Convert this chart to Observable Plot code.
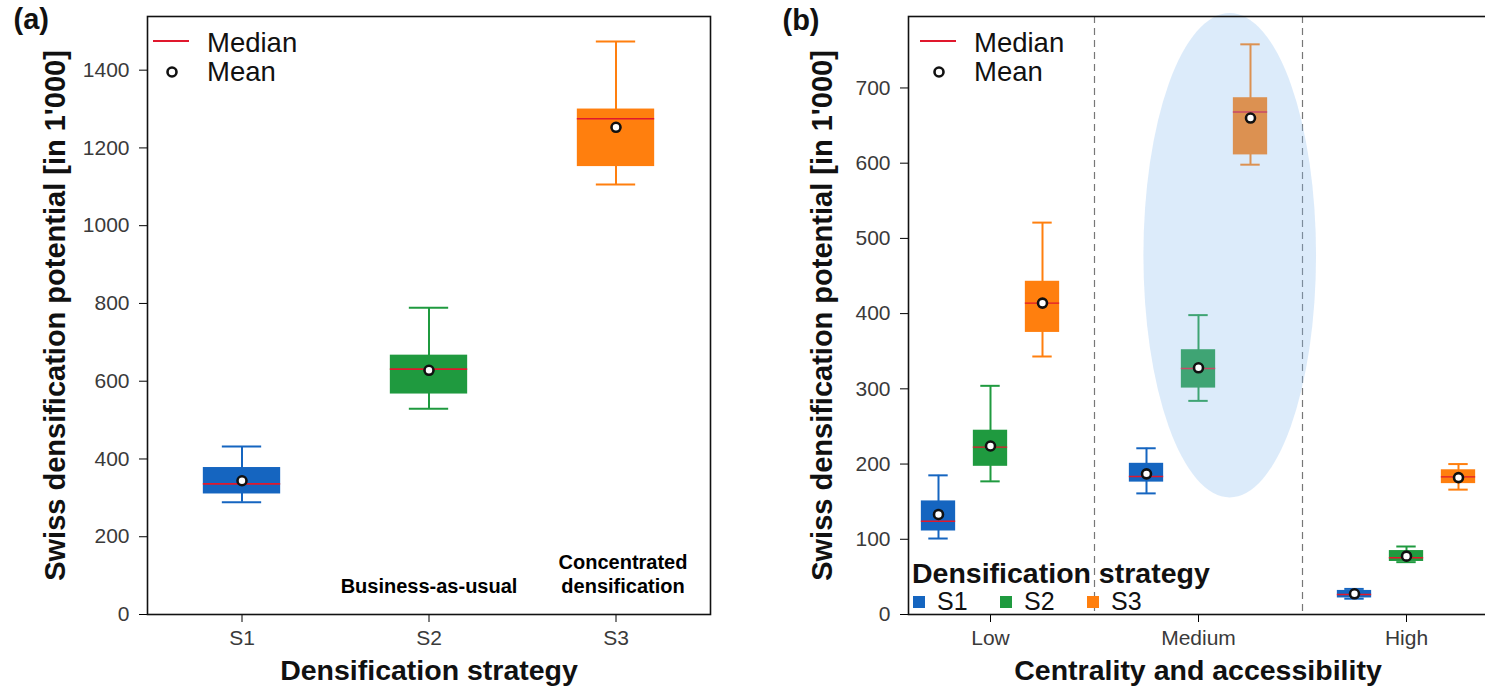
<!DOCTYPE html>
<html><head><meta charset="utf-8">
<script src="https://cdn.jsdelivr.net/npm/d3@7"></script>
<script src="https://cdn.jsdelivr.net/npm/@observablehq/plot@0.6"></script>
<style>
html,body{margin:0;padding:0;background:#fff;overflow:hidden;}
#wrap{position:relative;width:1485px;height:695px;overflow:hidden;}
#row{display:flex;width:1500px;}
#overlay{position:absolute;left:0;top:0;pointer-events:none;}
</style></head><body>
<div id="wrap"><div id="row"></div><svg id="overlay" width="1485" height="695"></svg></div>
<script>
const FONT = '"Liberation Sans", Arial, Helvetica, sans-serif';

// ---------- shared ----------
const strategies = ["S1", "S2", "S3"];
const strategyColors = ["#1565c0", "#1f9a3f", "#ff7f0e"];
const medianColor = "#e0182d";

// ---------- panel (a): totals per strategy ----------
const aWhiskerLow  = [289, 529, 1106];
const aQ1          = [310, 567, 1152];
const aMedian      = [336, 631, 1275];
const aQ3          = [378, 667, 1300];
const aWhiskerHigh = [432, 789, 1474];
const aMean        = [344, 628, 1253];
const aTicks = [0, 200, 400, 600, 800, 1000, 1200, 1400];
const aAnnotStrategies = ["S2", "S3"];
const aAnnotLabels = ["Business-as-usual", "Concentrated\ndensification"];

// ---------- panel (b): by centrality, order Low S1,S2,S3, Medium S1.., High S1.. ----------
const categories = ["Low", "Medium", "High"];
const bWhiskerLow  = [101, 177, 343,   161, 284, 598,   21, 69.6, 166];
const bQ1          = [111, 197, 375,   176, 301, 611,   22, 70.5, 174];
const bMedian      = [124, 222.5, 414, 183.5, 327, 668, 26.6, 75.4, 183];
const bQ3          = [151, 245, 443,   201, 352, 687,   32, 85, 192.4];
const bWhiskerHigh = [185, 304, 521,   221, 398, 758,   34, 90.4, 200];
const bMean        = [133, 224, 414,   187, 328, 660,   27.5, 77.6, 182];
const bTicks = [0, 100, 200, 300, 400, 500, 600, 700];
const highlightCategory = "Medium";
const highlightCenter = 477;   // y, in 1'000
const highlightRadius = 322;   // y, in 1'000

const yTitle = "Swiss densification potential [in 1'000]";

// ---------- tables ----------
const aRows = strategies.map((s, i) => ({
  key: s, strategy: s, lo: aWhiskerLow[i], q1: aQ1[i], median: aMedian[i],
  q3: aQ3[i], hi: aWhiskerHigh[i], mean: aMean[i]
}));
const SEP = "\u00b7";
const bRows = categories.flatMap((c, i) => strategies.map((s, j) => {
  const k = i * strategies.length + j;
  return {key: c + SEP + s, category: c, strategy: s, lo: bWhiskerLow[k], q1: bQ1[k],
    median: bMedian[k], q3: bQ3[k], hi: bWhiskerHigh[k], mean: bMean[k]};
}));
const bSlots = categories.flatMap((c, i) => [
  ...strategies.map(s => c + SEP + s),
  ...(i < categories.length - 1 ? ["gap" + i] : [])
]);
const bGaps = bSlots.filter(d => d.startsWith("gap"));
const bTickKeys = categories.map(c => c + SEP + strategies[1]);

function boxMarks(rows, boxInset, capInset, mw) {
  return [
    Plot.ruleX(rows, {x: "key", y1: "lo", y2: "hi", stroke: "strategy", strokeWidth: 2}),
    Plot.tickY(rows, {x: "key", y: "lo", stroke: "strategy", strokeWidth: 2, insetLeft: capInset, insetRight: capInset}),
    Plot.tickY(rows, {x: "key", y: "hi", stroke: "strategy", strokeWidth: 2, insetLeft: capInset, insetRight: capInset}),
    Plot.barY(rows, {x: "key", y1: "q1", y2: "q3", fill: "strategy", insetLeft: boxInset, insetRight: boxInset}),
    Plot.tickY(rows, {x: "key", y: "median", stroke: medianColor, strokeWidth: mw, insetLeft: boxInset, insetRight: boxInset})
  ];
}
function meanMarks(rows) {
  return Plot.dot(rows, {x: "key", y: "mean", r: 4.5, fill: "white", stroke: "#111", strokeWidth: 2.6});
}
const fmt = d => String(d);

// ---------- panel (a) ----------
const A = {w: 750, h: 695, ml: 147, mr: 40, mt: 16, mb: 81};
const aStep = (A.w - A.ml - A.mr) / strategies.length;
const plotA = Plot.plot({
  width: A.w, height: A.h,
  marginLeft: A.ml, marginRight: A.mr, marginTop: A.mt, marginBottom: A.mb,
  style: {fontFamily: FONT, fontSize: "21px", background: "transparent", overflow: "visible"},
  x: {domain: strategies, padding: 0, axis: null},
  y: {domain: [0, 1538], axis: null},
  color: {domain: strategies, range: strategyColors},
  marks: [
    ...boxMarks(aRows, (aStep - 78) / 2, (aStep - 40) / 2, 1.6),
    meanMarks(aRows),
    Plot.axisY(aTicks, {tickSize: 8, tickPadding: 10, label: null, fill: "#3a3a3a", fontSize: 21, tickFormat: fmt}),
    Plot.axisX(strategies, {tickSize: 8, tickPadding: 8, label: null, fill: "#3a3a3a", fontSize: 21}),
    Plot.text([aAnnotLabels[0]], {x: [aAnnotStrategies[0]], frameAnchor: "bottom", dy: -22, lineAnchor: "bottom", fontWeight: "bold", fontSize: 20, fill: "#000"}),
    Plot.text([aAnnotLabels[1]], {x: [aAnnotStrategies[1]], frameAnchor: "bottom", dy: -22, dx: 7, lineAnchor: "bottom", lineHeight: 1.2, fontWeight: "bold", fontSize: 20, fill: "#000"}),
    Plot.text([yTitle], {frameAnchor: "left", rotate: -90, dx: -92, textAnchor: "middle", lineAnchor: "middle", fontWeight: "bold", fontSize: 29, fill: "#111"}),
    Plot.text(["Densification strategy"], {frameAnchor: "bottom", dy: 65, textAnchor: "middle", fontWeight: "bold", fontSize: 28.5, fill: "#111"}),
    Plot.text(["(a)"], {frameAnchor: "top-left", dx: -134, dy: -8, textAnchor: "start", fontWeight: "bold", fontSize: 29, fill: "#111"}),
    Plot.frame({stroke: "#111", strokeWidth: 1.6})
  ]
});

// ---------- panel (b) ----------
const B = {w: 737, h: 695, ml: 158, mr: 0, mt: 16, mb: 81};
function highlightMark(index, scales) {
  const x = scales.x, y = scales.y;
  const k2 = highlightCategory + SEP + strategies[1];
  const k3 = highlightCategory + SEP + strategies[2];
  const step = x(k3) - x(k2);
  const bw = typeof x.bandwidth === "function" ? x.bandwidth() : step;
  const cx = x(k2) + bw / 2 + 0.61 * step;
  const cy = y(highlightCenter);
  const ry = Math.abs(y(highlightCenter + highlightRadius) - cy);
  const g = d3.create("svg:g");
  g.append("ellipse").attr("cx", cx).attr("cy", cy).attr("rx", 1.66 * step).attr("ry", ry)
    .attr("fill", "#8cbcf0").attr("fill-opacity", 0.3);
  return g.node();
}
const plotB = Plot.plot({
  width: B.w, height: B.h,
  marginLeft: B.ml, marginRight: B.mr, marginTop: B.mt, marginBottom: B.mb,
  style: {fontFamily: FONT, fontSize: "21px", background: "transparent", overflow: "visible"},
  x: {domain: bSlots, padding: 0, axis: null},
  y: {domain: [0, 795], axis: null},
  color: {domain: strategies, range: strategyColors},
  marks: [
    Plot.ruleX(bGaps, {x: d => d, stroke: "#777", strokeWidth: 1.2, strokeDasharray: "7,5"}),
    ...boxMarks(bRows, 8.85, 16.3, 1.4),
    highlightMark,
    meanMarks(bRows),
    Plot.axisY(bTicks, {tickSize: 8, tickPadding: 10, label: null, fill: "#3a3a3a", fontSize: 21, tickFormat: fmt}),
    Plot.axisX(bTickKeys, {tickSize: 8, tickPadding: 8, label: null, fill: "#3a3a3a", fontSize: 21, tickFormat: d => d.split(SEP)[0]}),
    Plot.text([yTitle], {frameAnchor: "left", rotate: -90, dx: -86, textAnchor: "middle", lineAnchor: "middle", fontWeight: "bold", fontSize: 29, fill: "#111"}),
    Plot.text(["Centrality and accessibility"], {frameAnchor: "bottom", dy: 65, textAnchor: "middle", fontWeight: "bold", fontSize: 28.5, fill: "#111"}),
    Plot.text(["(b)"], {frameAnchor: "top-left", dx: -126, dy: -7, textAnchor: "start", fontWeight: "bold", fontSize: 29, fill: "#111"}),
    Plot.frame({stroke: "#111", strokeWidth: 1.6})
  ]
});

const row = document.getElementById("row");
row.appendChild(plotA);
row.appendChild(plotB);

// ---------- legends (overlay) ----------
const ov = d3.select("#overlay").style("font-family", FONT);
function statLegend(x0) {
  ov.append("line").attr("x1", x0).attr("x2", x0 + 36).attr("y1", 41).attr("y2", 41)
    .attr("stroke", medianColor).attr("stroke-width", 2);
  ov.append("text").attr("x", x0 + 54).attr("y", 52).attr("font-size", 27.5).attr("fill", "#111").text("Median");
  ov.append("circle").attr("cx", x0 + 19).attr("cy", 72).attr("r", 4.5)
    .attr("fill", "white").attr("stroke", "#111").attr("stroke-width", 2.6);
  ov.append("text").attr("x", x0 + 54).attr("y", 81).attr("font-size", 27.5).attr("fill", "#111").text("Mean");
}
statLegend(153);
statLegend(920);
ov.append("text").attr("x", 912).attr("y", 583).attr("font-size", 28.5).attr("font-weight", "bold")
  .attr("fill", "#111").text("Densification strategy");
strategies.forEach((s, i) => {
  const x0 = 913 + i * 87;
  ov.append("rect").attr("x", x0).attr("y", 596).attr("width", 12).attr("height", 12).attr("fill", strategyColors[i]);
  ov.append("text").attr("x", x0 + 24).attr("y", 610).attr("font-size", 25).attr("fill", "#111").text(s);
});
</script>
</body></html>
